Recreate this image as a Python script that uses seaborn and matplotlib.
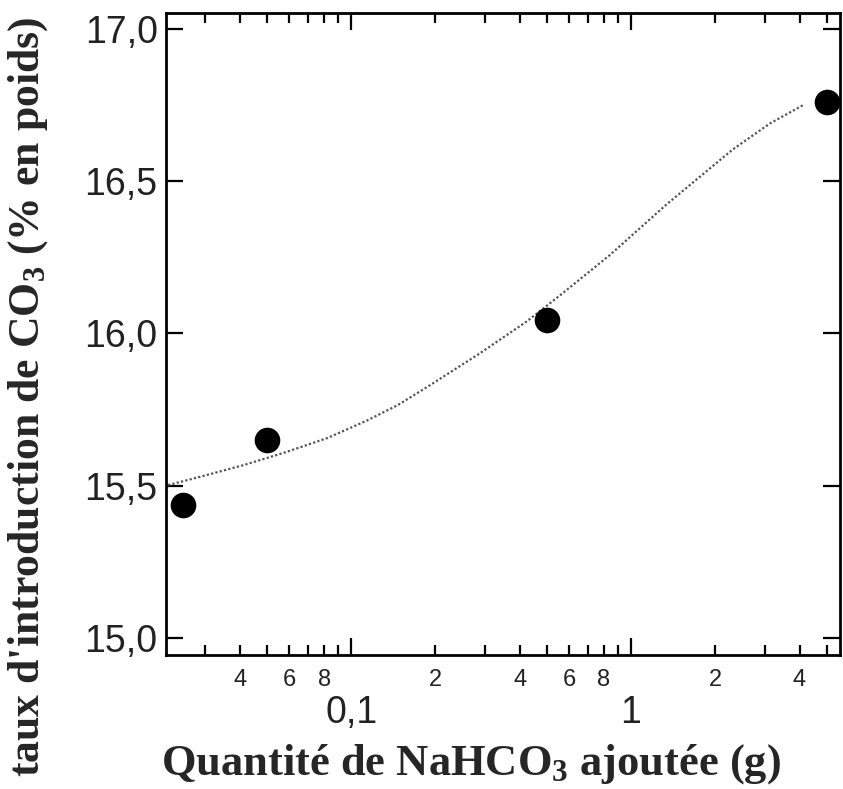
import matplotlib
matplotlib.use("Agg")
import matplotlib.pyplot as plt
import matplotlib.ticker as mticker
import numpy as np
import pandas as pd
import seaborn as sns

# data
nahco3_g = [0.025, 0.05, 0.5, 5.0]
co3_pct = [15.437, 15.650, 16.044, 16.761]

# dotted trend curve
fit_x = [0.02216, 0.02883, 0.04106, 0.05705, 0.08193, 0.1139, 0.1469, 0.1912,
         0.2885, 0.4246, 0.5569, 0.8407, 1.343, 2.312, 3.135, 4.113]
fit_y = [15.502, 15.529, 15.567, 15.607, 15.656, 15.714, 15.765, 15.830,
         15.935, 16.040, 16.125, 16.258, 16.425, 16.605, 16.690, 16.750]

y_ticks = [15.0, 15.5, 16.0, 16.5, 17.0]
y_tick_labels = ["15,0", "15,5", "16,0", "16,5", "17,0"]
x_major_ticks = [0.1, 1]
x_major_labels = ["0,1", "1"]

points = pd.DataFrame({"x": nahco3_g, "y": co3_pct})
curve = pd.DataFrame({"x": fit_x, "y": fit_y})

sns.set_style("ticks")
plt.rcParams["font.family"] = ["Liberation Sans", "DejaVu Sans"]
plt.rcParams["mathtext.fontset"] = "custom"
plt.rcParams["mathtext.rm"] = "Liberation Serif:bold"
plt.rcParams["mathtext.default"] = "rm"

fig = plt.figure(figsize=(8.43, 7.89), dpi=100)
ax = fig.add_axes([0.197, 0.170, 0.7994, 0.8135])

sns.lineplot(data=curve, x="x", y="y", ax=ax, color="#555555",
             linewidth=1.6, linestyle=(0, (1, 1)), sort=False)
sns.scatterplot(data=points, x="x", y="y", ax=ax, color="black",
                s=340, edgecolor="black", linewidth=0, zorder=3)

ax.set_xscale("log")
ax.set_xlim(0.0218, 5.58)
ax.set_ylim(14.944, 17.053)

# y axis
ax.set_yticks(y_ticks)
ax.set_yticklabels(y_tick_labels)

# x axis: big major labels below, small minor labels (even mantissas)
ax.xaxis.set_major_locator(mticker.FixedLocator(x_major_ticks))
ax.xaxis.set_major_formatter(mticker.FixedFormatter(x_major_labels))
ax.xaxis.set_minor_locator(mticker.LogLocator(base=10, subs=range(2, 10), numticks=20))

def minor_fmt(v, pos):
    m = v / 10 ** np.floor(np.log10(v) + 1e-9)
    m = int(round(m))
    return str(m) if m in (2, 4, 6, 8) else ""

ax.xaxis.set_minor_formatter(mticker.FuncFormatter(minor_fmt))

ax.tick_params(axis="both", which="both", direction="in", top=True, right=True,
               color="black", width=1.6)
ax.tick_params(axis="y", which="major", length=12, labelsize=27, pad=6,
               labelcolor="#222222")
ax.tick_params(axis="x", which="major", length=12, labelsize=27, pad=29,
               labelcolor="#222222")
ax.tick_params(axis="x", which="minor", length=7, labelsize=17, pad=10,
               labelcolor="#222222")
ax.tick_params(axis="y", which="minor", left=False, right=False)

for side in ["left", "right", "top", "bottom"]:
    ax.spines[side].set_visible(True)
    ax.spines[side].set_linewidth(2)
    ax.spines[side].set_color("black")

ax.set_xlabel("Quantité de NaHCO$_3$ ajoutée (g)", family="Liberation Serif",
              fontweight="bold", fontsize=32)
ax.set_ylabel("taux d'introduction de CO$_3$ (% en poids)", family="Liberation Serif",
              fontweight="bold", fontsize=31.5)
ax.xaxis.set_label_coords(0.4525, -0.1355)
ax.yaxis.set_label_coords(-0.172, 0.402)

fig.savefig("out.png", dpi=100)
